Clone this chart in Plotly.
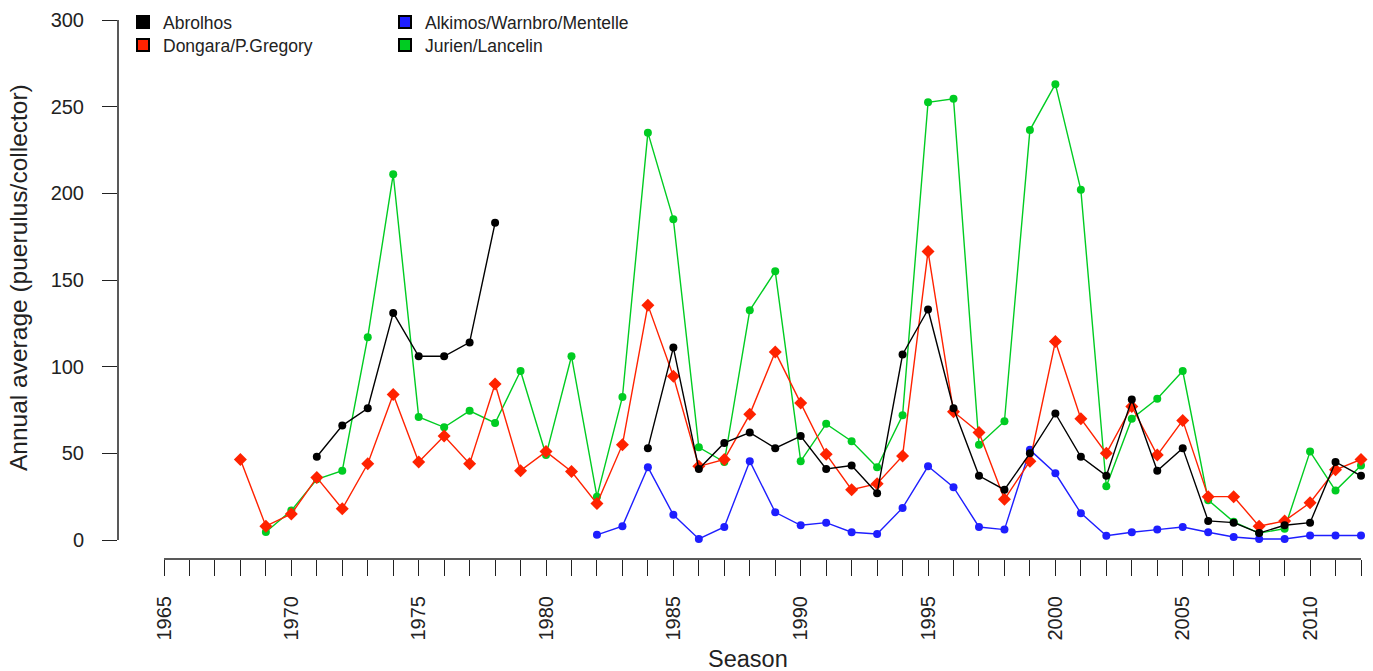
import plotly.graph_objects as go

years = list(range(1968, 2013))

abrolhos = [None, None, None, 48, 66, 76, 131, 106, 106, 114, 183,
            None, None, None, None, None,
            53, 111, 41, 56, 62, 53, 60, 41, 43, 27, 107, 133, 76, 37, 29, 50,
            73, 48, 37, 81, 40, 53, 11, 10, 4, 8.5, 10, 45, 37]

dongara = [46.5, 8, 15, 36, 18, 44, 84, 45, 60, 44, 90, 40, 51, 39.5, 21, 55,
           135.5, 94.5, 42.5, 46.5, 72.5, 108.5, 79, 49.5, 29, 32.5, 48.5, 166.5,
           74, 62, 23.5, 45.5, 114.5, 70, 50, 77, 49, 69, 25, 25, 8, 11, 21.5, 40.5, 46.5]

alkimos = [None] * 14 + [3, 8, 42, 14.5, 0.6, 7.5, 45.5, 16, 8.5, 10, 4.5, 3.5, 18.5,
                         42.5, 30.5, 7.5, 6, 52, 38.5, 15.5, 2.5, 4.5, 6, 7.5, 4.5,
                         1.7, 0.6, 0.6, 2.6, 2.6, 2.6]

jurien = [None, 4.6, 17, 35, 40, 117, 211, 71, 65, 74.5, 67.5, 97.5, 49, 106, 25,
          82.5, 235, 185, 53.5, 45, 132.5, 155, 45.5, 67, 57, 42, 72, 252.5, 254.5,
          55, 68.5, 236.5, 263, 202, 31, 70, 81.5, 97.5, 23, 10.5, 4, 6.5, 51, 28.5, 43]

series_names = ["Abrolhos", "Dongara/P.Gregory", "Alkimos/Warnbro/Mentelle", "Jurien/Lancelin"]
series_values = [abrolhos, dongara, alkimos, jurien]
series_colors = ["#000000", "#FF2200", "#1E1EFF", "#00CC22"]
series_symbols = ["circle", "diamond", "circle", "circle"]
series_msize = [8, 10, 8, 8]

tick_years = list(range(1965, 2013))
tick_text = [str(y) if y % 5 == 0 else "" for y in tick_years]
y_ticks = [0, 50, 100, 150, 200, 250, 300]

W, H = 1373, 671
L, R, T, B = 118, 12, 20, 112
pw = W - L - R
ph = H - T - B
px_per_year = (1361 - 164) / 47.0
x_left = 1965 - (164 - 118) / px_per_year
px_per_unit = 520 / 300.0
y_bottom = -(559 - 540) / px_per_unit

font_main = "Liberation Sans, Arial, sans-serif"

# legend slot positions (left px, top px) for each series: 2 columns x 2 rows
legend_left_px = [123, 123, 385, 385]
legend_top_px = [4, 27, 4, 27]
legend_ids = ["legend", "legend2", "legend3", "legend4"]

fig = go.Figure()

# draw order: green underneath
for i in [3, 2, 1, 0]:
    fig.add_trace(go.Scatter(
        x=years, y=series_values[i], mode="lines+markers",
        line=dict(color=series_colors[i], width=1.4),
        marker=dict(color=series_colors[i], symbol=series_symbols[i], size=series_msize[i]),
        showlegend=False, cliponaxis=False, connectgaps=False, name=series_names[i]))

for i in range(4):
    fig.add_trace(go.Scatter(
        x=[None], y=[None], mode="markers", name=series_names[i],
        marker=dict(color=series_colors[i], symbol="square", size=11,
                    line=dict(color="black", width=1.2)),
        legend=legend_ids[i], showlegend=True))

legend_layouts = {}
for i in range(4):
    legend_layouts[legend_ids[i]] = dict(
        x=(legend_left_px[i] - L) / pw, y=1 + (T - legend_top_px[i]) / ph,
        xanchor="left", yanchor="top", bgcolor="rgba(0,0,0,0)",
        font=dict(size=17.5, family=font_main, color="#222222"),
        itemsizing="constant")

fig.update_layout(
    width=W, height=H,
    margin=dict(l=L, r=R, t=T, b=B, autoexpand=False),
    plot_bgcolor="white", paper_bgcolor="white",
    font=dict(family=font_main, color="#222222"),
    xaxis=dict(range=[x_left, 2012], tickvals=tick_years, ticktext=tick_text,
               tickangle=-90, ticks="outside", ticklen=16, tickwidth=1.3, tickcolor="#222222",
               showgrid=False, zeroline=False, showline=False,
               tickfont=dict(size=20, family=font_main, color="#222222"),
               ticklabelstandoff=12),
    yaxis=dict(range=[y_bottom, 300], tickvals=y_ticks, ticks="outside", ticklen=15,
               tickwidth=1.3, tickcolor="#222222", showgrid=False, zeroline=False,
               showline=False, tickfont=dict(size=20, family=font_main, color="#222222"),
               ticklabelstandoff=14),
    shapes=[
        dict(type="line", xref="x", yref="paper", x0=1965, x1=2012, y0=0, y1=0,
             line=dict(color="#222222", width=1.5)),
        dict(type="line", xref="paper", yref="y", x0=0, x1=0, y0=0, y1=300,
             line=dict(color="#222222", width=1.5)),
    ],
    annotations=[
        dict(text="Season", xref="paper", yref="paper",
             x=(748 - L) / pw, y=-(659 - (T + ph)) / ph, xanchor="center", yanchor="middle",
             showarrow=False, font=dict(size=23.5, family=font_main, color="#222222")),
        dict(text="Annual average (puerulus/collector)", xref="paper", yref="paper",
             x=-(L - 18) / pw, y=1 - (278 - T) / ph, xanchor="center", yanchor="middle",
             textangle=-90, showarrow=False,
             font=dict(size=24.5, family=font_main, color="#222222")),
    ],
    **legend_layouts,
)

fig.write_html("out.html", config={"displayModeBar": False},
               post_script="document.body.style.margin='0px';")
